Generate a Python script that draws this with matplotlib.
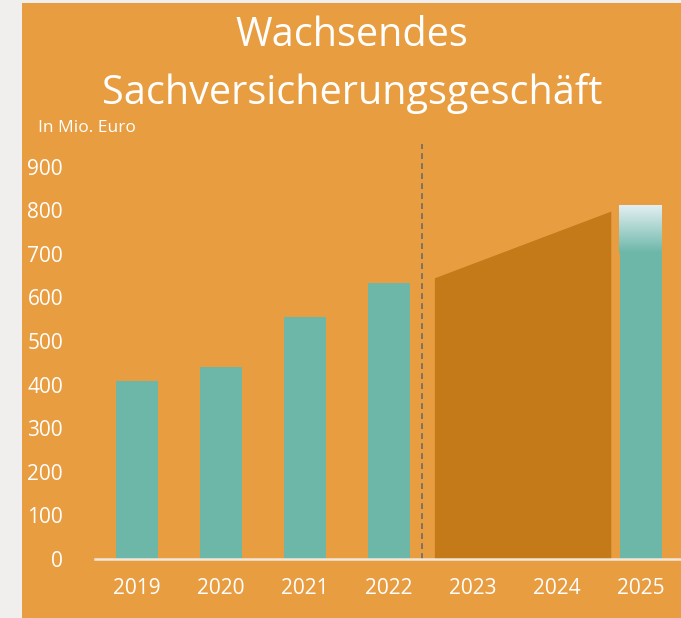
import numpy as np
import matplotlib
matplotlib.use("Agg")
import matplotlib.pyplot as plt
from matplotlib.colors import LinearSegmentedColormap

plt.rcParams["font.family"] = ["Open Sans", "DejaVu Sans"]

# Daten
jahre = ["2019", "2020", "2021", "2022", "2023", "2024", "2025"]
ist_werte = [408, 440, 555, 633]
ziel_wert = 812
prognose_x = [3.54, 5.64]
prognose_y = [645, 798]
trenn_x = 3.39
y_ticks = [0, 100, 200, 300, 400, 500, 600, 700, 800, 900]

ORANGE = "#E89D41"
TEAL = "#6DB7A9"
DUNKEL = "#C47A18"

fig = plt.figure(figsize=(6.81, 6.18), dpi=100)
fig.patch.set_facecolor("#F0EFED")

# orange Hintergrundfläche
bg = fig.add_axes([22 / 681, 0, 1 - 22 / 681, 615 / 618], zorder=-1)
bg.set_facecolor(ORANGE)
bg.set_xticks([])
bg.set_yticks([])
for s in bg.spines.values():
    s.set_visible(False)

ax = fig.add_axes([95 / 681, 59 / 618, 1 - 95 / 681, 436 / 618])
ax.set_facecolor("none")

# Prognose-Fläche
ax.fill_between(prognose_x, [0, 0], prognose_y, color=DUNKEL, lw=0, zorder=1)

# Ist-Balken
x_ist = np.arange(len(ist_werte))
ax.bar(x_ist, ist_werte, width=0.5, color=TEAL, zorder=2)

# Ziel 2025 mit Verlauf oben
ax.bar(6, ziel_wert, width=0.5, color=TEAL, zorder=2)
cmap = LinearSegmentedColormap.from_list("verlauf", [TEAL, "#E2EFF2"])
grad = np.linspace(0, 1, 100).reshape(-1, 1)
ax.imshow(grad, cmap=cmap, aspect="auto", origin="lower",
          extent=(6 - 0.26, 6 + 0.25, ziel_wert - 110, ziel_wert), zorder=3)
ax.set_xlim(-0.5, 6.476)
ax.set_ylim(0, 1000)

# Trennlinie
ax.plot([trenn_x, trenn_x], [0, 952], ls=(0, (3.5, 2.5)), color="#6A6A6A", lw=1.2, zorder=4)

# Grundlinie
ax.axhline(0, color="#F3E7D9", lw=1.8, zorder=5, clip_on=False)

for s in ax.spines.values():
    s.set_visible(False)

ax.set_yticks(y_ticks)
ax.set_yticklabels([str(v) for v in y_ticks])
ax.set_xticks(range(len(jahre)))
ax.set_xticklabels(jahre)
ax.tick_params(axis="both", length=0, colors="white", labelsize=15)
ax.tick_params(axis="y", pad=23)
ax.tick_params(axis="x", pad=14)

fig.text(38 / 681, 1 - 128 / 618, "In Mio. Euro", color="white", fontsize=12.5, va="center", ha="left")
fig.text(352 / 681, 1 - 36 / 618, "Wachsendes", color="white", fontsize=28.5, ha="center", va="center")
fig.text(352 / 681, 1 - 94 / 618, "Sachversicherungsgeschäft", color="white", fontsize=28.5,
         ha="center", va="center")

fig.savefig("out.png", dpi=100, facecolor=fig.get_facecolor())
